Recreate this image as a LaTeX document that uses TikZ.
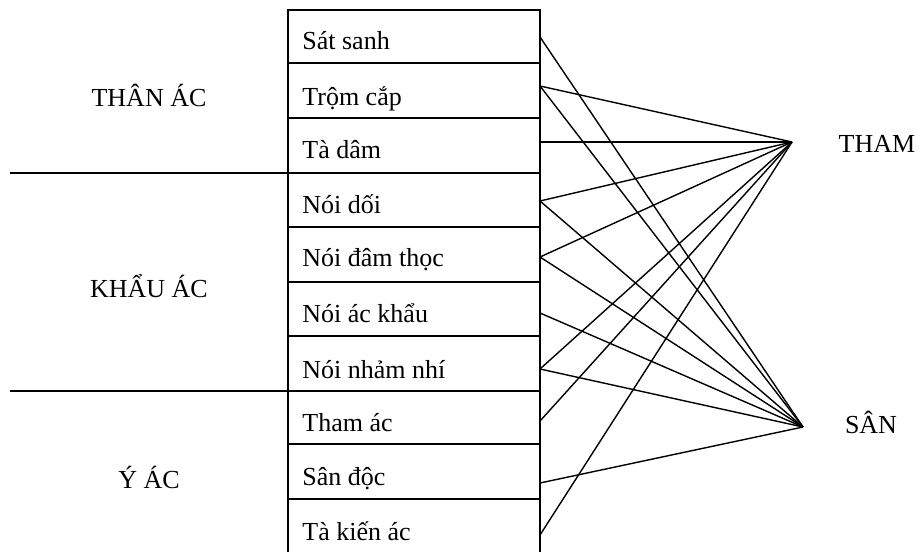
\documentclass[tikz,border=0pt]{standalone}
\usepackage{fontspec}
\setmainfont{Liberation Serif}
\begin{document}
\begin{tikzpicture}[x=0.5pt,y=-0.5pt,font=\fontsize{13}{15}\selectfont]
    \useasboundingbox (0,0) rectangle (919,551);
    \node[anchor=base] (than) at (149,106.7) {THÂN ÁC};
    \node[anchor=base] (khau) at (149,297.3) {KHẨU ÁC};
    \node[anchor=base] (y) at (149,488.3) {Ý ÁC};
    \node[anchor=base] (tham) at (877,152.7) {THAM};
    \node[anchor=base] (san) at (871,433.3) {SÂN};
    \foreach \y/\t [count=\i] in {50/Sát sanh, 105.5/Trộm cắp, 158.3/Tà dâm, 213.3/Nói dối, 266.7/Nói đâm thọc, 322.7/Nói ác khẩu, 378.3/Nói nhảm nhí, 431.7/Tham ác, 485/Sân độc, 540/Tà kiến ác}
        \node[anchor=base west,inner sep=0pt] (r\i) at (302,\y) {\t};

    \draw[line width=1pt] (288,555) -- (288,10) -- (540,10) -- (540,555);
    \foreach \y in {63,118,173,227,282,336,391,444,499}
        \draw[line width=1pt] (288,\y) -- (540,\y);
    \draw[line width=1pt] (10,173) -- (288,173);
    \draw[line width=1pt] (10,391) -- (288,391);

    \foreach \y [count=\i] in {37,86,142,201,257,313,369,421,483,535}
        \coordinate (e\i) at (540,\y);
    \coordinate (t) at (792,142);
    \coordinate (s) at (803,427);
    \foreach \i in {2,3,4,5,7,8,10}
        \draw[line width=0.7pt] (e\i) -- (t);
    \foreach \i in {1,2,4,5,6,7,9}
        \draw[line width=0.7pt] (e\i) -- (s);
\end{tikzpicture}
\end{document}
